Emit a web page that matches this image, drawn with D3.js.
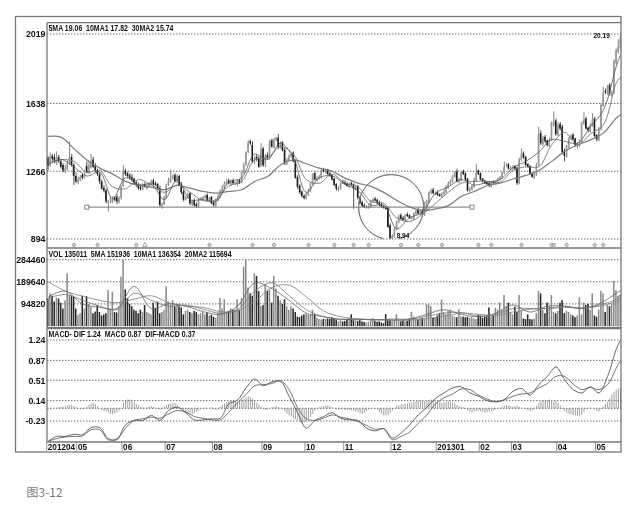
<!DOCTYPE html>
<html>
<head>
<meta charset="utf-8">
<script src="https://cdn.jsdelivr.net/npm/d3@7"></script>
<style>
html, body { margin: 0; padding: 0; background: #fff; }
svg { display: block; }
#chart { filter: blur(0.5px); }
text { font-family: "Liberation Sans", Arial, sans-serif; font-weight: bold; fill: #111; }
.grid { stroke: #555; stroke-width: 0.9; stroke-dasharray: 1.4 1.6; }
.frame { stroke: #777; fill: none; stroke-width: 1.3; }
</style>
</head>
<body>
<svg id="chart" width="640" height="506"></svg>
<script>
// daily candles, 2012/04 - 2013/05
var open = [
13.4,13.0,13.5,13.45,13.1,13.45,13.2,13.0,12.65,12.75,
13.1,13.45,13.0,12.4,12.05,12.15,12.45,12.3,12.95,12.55,
12.85,13.3,12.95,12.7,12.5,12.1,11.75,11.6,10.9,11.05,
10.95,11.2,11.25,10.95,11.2,11.85,12.7,12.55,12.45,12.35,
12.25,12.05,11.95,11.8,11.65,11.95,11.7,11.8,11.95,12.15,
12.0,11.95,11.75,10.75,10.85,11.2,11.9,12.05,12.25,12.45,
12.05,12.4,11.95,11.55,11.1,11.2,11.45,10.85,11.05,10.85,
10.75,11.1,11.1,11.2,11.35,11.05,11.25,10.95,10.8,11.05,
11.3,11.55,11.75,11.95,12.15,11.95,12.15,11.95,11.95,12.15,
12.05,12.55,13.0,13.7,14.3,14.1,13.15,13.45,13.35,12.95,
13.9,13.05,13.55,13.4,14.35,13.95,14.35,14.5,13.95,14.25,
13.85,13.05,13.25,13.45,13.65,13.25,12.35,11.85,11.55,11.3,
11.15,11.35,11.55,11.95,12.55,12.15,12.25,12.3,12.75,12.6,
12.75,12.55,12.45,12.25,11.95,11.6,11.7,12.05,12.05,12.0,
11.8,12.0,11.95,11.65,11.85,11.25,10.95,10.8,10.65,10.65,
10.7,11.0,11.15,11.1,10.95,10.85,10.75,10.7,10.65,9.7,
8.95,9.05,9.45,9.85,10.25,10.1,9.95,10.3,10.25,10.05,
10.05,10.3,10.55,10.3,10.5,10.25,10.55,10.95,11.45,11.65,
11.4,11.5,11.4,11.25,11.4,11.5,11.75,11.95,12.05,12.35,
12.65,12.05,12.15,12.65,12.55,12.25,11.55,11.65,11.8,12.15,
12.7,12.55,12.25,12.15,12.05,12.0,11.8,12.1,11.95,12.05,
12.2,12.3,12.55,12.95,13.05,12.75,12.8,12.95,12.85,12.0,
13.25,13.65,13.45,13.05,12.95,12.55,12.3,12.45,13.0,14.75,
14.15,14.55,14.35,14.05,14.35,15.2,15.45,14.65,15.25,15.1,
13.75,13.45,13.95,14.45,14.65,14.45,14.05,14.05,14.25,15.25,
15.55,15.05,14.85,15.15,15.55,14.65,14.35,14.95,16.25,17.05,
16.95,17.4,16.85,16.95,18.6,19.2,19.4];
var close = [
12.95,13.45,13.35,13.25,13.4,13.2,12.9,12.7,12.8,13.1,
13.4,13.0,12.4,12.1,12.2,12.35,12.3,12.5,12.6,13.0,
13.2,12.9,12.7,12.5,12.1,11.7,11.6,11.0,11.0,11.1,
11.15,11.1,11.0,11.2,11.8,12.6,12.5,12.4,12.3,12.2,
12.0,11.9,11.75,11.7,11.9,11.8,11.85,12.0,12.1,11.95,
11.9,11.7,10.8,10.85,11.2,11.9,12.1,12.3,12.4,12.1,
12.4,11.9,11.5,11.1,11.2,11.4,10.9,11.0,10.8,10.75,
11.1,11.2,11.25,11.3,11.1,11.2,10.9,10.8,11.1,11.3,
11.6,11.8,12.0,12.1,12.0,12.1,12.0,12.05,12.1,12.0,
12.6,13.0,13.7,14.2,14.2,13.2,13.4,13.3,12.9,13.9,
13.0,13.5,13.4,14.3,14.0,14.4,14.5,14.0,14.2,13.8,
13.1,13.3,13.5,13.6,13.2,12.3,11.8,11.5,11.3,11.2,
11.4,11.6,12.0,12.5,12.2,12.3,12.35,12.7,12.65,12.7,
12.5,12.4,12.2,11.9,11.7,11.75,12.0,12.0,11.95,11.85,
11.95,11.9,11.7,11.8,11.2,10.9,10.75,10.7,10.7,10.75,
11.05,11.1,11.05,10.9,10.8,10.7,10.65,10.6,9.6,9.0,
9.1,9.5,9.9,10.2,10.05,10.0,10.25,10.2,10.1,10.1,
10.35,10.5,10.35,10.45,10.3,10.6,11.0,11.5,11.6,11.45,
11.45,11.35,11.3,11.45,11.55,11.8,12.0,12.1,12.4,12.6,
12.1,12.2,12.6,12.5,12.2,11.6,11.7,11.85,12.2,12.6,
12.5,12.2,12.1,12.0,11.95,11.85,12.05,12.0,12.1,12.25,
12.35,12.6,12.9,13.0,12.8,12.85,12.9,12.8,12.0,13.3,
13.6,13.4,13.0,12.9,12.5,12.35,12.5,13.0,14.7,14.2,
14.5,14.3,14.1,14.4,15.3,15.4,14.7,15.2,15.0,13.7,
13.5,14.0,14.5,14.6,14.4,14.1,14.1,14.3,15.3,15.5,
15.0,14.9,15.2,15.5,14.6,14.4,15.0,16.3,17.0,17.0,
17.3,16.9,17.0,18.7,19.3,19.5,20.0];
var high = [
13.5,13.7,13.6,13.6,13.75,13.55,13.3,13.1,13.0,13.25,
14.3,13.6,13.1,12.6,12.35,12.45,12.55,12.6,13.2,13.25,
13.6,13.45,13.1,12.8,12.6,12.2,11.9,11.7,11.1,11.3,
11.3,11.3,11.4,11.3,11.9,13.0,12.8,12.65,12.55,12.5,
12.3,12.15,12.05,11.95,12.0,12.05,11.95,12.05,12.2,12.25,
12.1,12.0,11.85,10.95,11.3,11.95,12.3,12.75,12.5,12.55,
12.5,12.45,12.05,11.65,11.3,11.5,11.5,11.1,11.15,10.95,
11.15,11.25,11.3,11.4,11.45,11.25,11.3,11.05,11.15,11.4,
11.65,11.9,12.1,12.25,12.25,12.2,12.25,12.1,12.2,12.25,
12.7,13.15,13.75,14.35,14.4,14.3,13.5,13.6,13.5,14.2,
14.0,13.6,13.7,14.4,14.45,14.5,14.55,14.7,14.3,14.3,
13.95,13.4,13.6,13.7,13.75,13.3,12.45,11.95,11.6,11.4,
11.5,11.7,12.05,12.55,12.65,12.4,12.45,12.8,12.85,12.8,
12.8,12.6,12.5,12.3,12.0,11.85,12.05,12.2,12.15,12.05,
12.05,12.1,12.0,11.9,11.9,11.3,11.05,10.9,10.8,10.85,
11.1,11.2,11.25,11.15,11.05,10.95,10.8,10.75,10.7,9.8,
9.2,9.6,9.95,10.3,10.35,10.2,10.3,10.4,10.3,10.2,
10.4,10.55,10.65,10.55,10.6,11.0,11.1,11.55,11.7,11.75,
11.55,11.6,11.45,11.5,11.65,11.9,12.1,12.2,12.45,12.65,
12.8,12.3,12.65,12.75,12.6,12.3,11.8,11.9,12.3,13.05,
12.75,12.6,12.3,12.2,12.1,12.05,12.1,12.15,12.15,12.3,
12.4,12.65,13.2,13.1,13.1,12.95,13.0,13.0,12.9,13.4,
13.9,13.75,13.5,13.1,13.0,12.6,12.55,13.1,15.1,14.9,
14.6,14.65,14.4,14.5,15.4,15.95,15.55,15.35,15.35,15.2,
13.9,14.1,14.55,14.7,14.75,14.5,14.25,14.4,15.4,15.9,
15.65,15.1,15.3,15.85,15.65,14.7,15.1,16.4,17.3,17.2,
17.4,17.5,17.1,18.8,19.4,19.9,20.19];
var low = [
12.7,12.9,13.2,13.1,13.0,13.1,12.8,12.6,12.55,12.7,
13.0,12.9,11.9,12.0,11.95,12.1,12.2,12.25,12.55,12.5,
12.8,12.85,12.6,12.4,11.95,11.65,11.5,10.9,10.45,10.9,
10.9,11.0,10.85,10.9,11.1,11.8,12.4,12.3,12.2,12.1,
11.95,11.8,11.65,11.6,11.6,11.75,11.65,11.75,11.9,11.9,
11.85,11.65,10.7,10.6,10.8,11.15,11.85,12.0,12.2,12.05,
12.0,11.85,11.4,11.0,11.05,11.15,10.8,10.75,10.7,10.65,
10.65,11.05,11.05,11.15,11.0,11.0,10.85,10.7,10.7,11.0,
11.2,11.5,11.7,11.9,11.95,11.85,11.95,11.9,11.85,11.95,
12.0,12.5,12.95,13.65,14.1,13.1,13.05,13.2,12.85,12.9,
12.9,12.9,13.3,13.3,13.95,13.9,14.3,13.9,13.9,13.75,
13.0,13.0,13.2,13.4,13.15,12.25,11.7,11.4,11.2,11.1,
11.1,11.3,11.5,11.9,12.15,12.1,12.2,12.25,12.6,12.55,
12.45,12.35,12.15,11.85,11.6,11.55,11.65,11.95,11.9,11.8,
11.75,11.85,10.6,11.6,11.1,10.85,10.7,10.65,10.6,10.6,
10.65,10.95,11.0,10.85,10.75,10.65,10.6,10.55,9.55,8.94,
8.94,9.0,9.4,9.8,10.0,9.95,9.9,10.15,10.05,10.0,
10.0,10.25,10.3,10.25,10.25,10.2,10.5,10.9,11.4,11.4,
11.35,11.3,11.25,11.2,11.35,11.45,11.7,11.9,12.0,12.3,
12.05,12.0,12.1,12.45,12.15,11.55,11.5,11.6,11.75,12.1,
12.45,12.15,12.05,11.95,11.9,11.8,11.75,11.95,11.9,12.0,
12.15,12.25,12.5,12.9,12.75,12.7,12.75,12.75,11.9,11.95,
13.2,13.35,12.95,12.85,12.45,12.3,12.25,12.4,12.95,14.1,
14.05,14.2,14.0,14.0,14.3,15.1,14.6,14.6,14.9,13.6,
13.2,13.4,13.9,14.4,14.35,14.0,13.9,14.0,14.2,15.2,
14.95,14.8,14.8,15.1,14.5,14.3,14.3,14.9,16.2,16.9,
16.85,16.8,16.75,16.9,18.5,19.1,19.3];

// moving averages, read every 6 bars plus the last bar
var maBars = d3.range(0, 266, 6).concat([266]);
var ma5 = [13.0,13.3,12.9,12.4,12.6,11.15,12.3,11.9,11.95,11.1,12.2,11.1,11.1,11.0,12.05,12.3,13.6,13.3,14.2,13.4,11.5,12.3,12.4,11.95,11.6,10.8,10.8,9.5,10.1,10.4,11.45,11.8,12.2,11.9,12.05,12.2,12.85,13.2,13.7,14.4,14.3,14.2,15.1,16.0,18.4,19.06];
var ma10 = [13.1,13.3,13.2,12.6,12.7,11.8,11.7,12.2,11.9,11.5,11.9,11.5,11.05,11.1,11.85,12.1,13.3,13.4,14.0,13.6,12.2,12.0,12.5,12.0,11.8,11.0,10.9,10.1,9.9,10.3,10.9,11.5,12.0,12.1,12.1,12.05,12.7,12.9,12.9,14.1,14.8,14.1,14.7,15.2,17.5,17.82];
var ma30 = [14.57,14.53,13.9,13.28,12.83,12.5,12.1,11.88,11.79,11.64,11.88,11.73,11.55,11.46,11.55,11.64,12.1,12.37,13.0,13.28,13.07,12.83,12.65,12.28,12.01,11.83,11.5,11.06,10.7,10.5,10.59,10.77,11.28,11.55,11.86,12.01,12.23,12.43,12.7,13.2,13.74,14.1,14.38,14.75,15.57,15.74];

// volume in thousands
var volume = [
119,140,130,105,122,118,100,75,110,226,
135,130,125,75,48,55,130,75,128,95,
82,55,62,90,60,45,50,55,155,75,
147,60,58,85,212,284,157,120,95,85,
70,65,55,70,60,90,60,55,50,100,
78,105,55,60,70,170,105,90,110,85,
95,85,80,50,65,70,60,55,65,60,
50,55,62,50,58,45,48,40,35,55,
120,75,115,60,65,75,70,70,115,70,
120,255,284,165,140,130,226,215,150,85,
90,180,150,155,100,215,160,130,110,95,
115,85,70,85,75,60,40,38,45,50,
55,48,50,70,50,35,30,28,30,30,
32,30,38,32,28,20,25,20,22,30,
35,50,28,25,22,28,20,18,15,18,
25,35,22,18,20,15,12,51,28,25,
22,25,50,22,20,25,20,22,32,61,
40,30,28,32,35,30,93,93,85,35,
38,45,55,114,60,50,65,70,45,40,
38,72,42,40,38,40,35,38,32,30,
48,45,35,40,42,80,42,45,78,70,
100,70,133,85,100,60,50,83,60,133,
70,32,30,50,30,28,32,55,151,140,
70,55,100,85,133,60,55,65,100,111,
55,65,60,50,45,38,45,123,50,100,
90,95,70,140,45,40,70,151,140,60,
90,85,95,194,154,130,135];

// volume averages, read every 8 bars plus the last bar
var volBars = d3.range(0, 266, 8).concat([266]);
var vma5 = [125,150,95,80,75,170,75,95,85,62,50,85,185,160,110,55,40,28,30,25,30,30,50,70,50,40,55,90,60,85,85,75,95,140,152];
var vma10 = [120,135,110,85,70,140,110,85,90,72,55,70,150,185,130,70,40,30,28,28,25,28,42,55,58,42,50,75,75,75,85,75,90,115,136];
var vma20 = [190,150,128,110,100,115,130,100,85,80,62,65,105,165,175,125,65,40,30,28,25,25,32,42,55,50,45,60,72,75,80,78,85,105,116];

// MACD lines, read every 4 bars plus the last bar
var macdBars = d3.range(0, 266, 4).concat([266]);
var dif = [-0.60,-0.51,-0.51,-0.47,-0.48,-0.35,-0.35,-0.55,-0.57,-0.30,-0.22,-0.22,-0.13,-0.22,-0.04,0.02,-0.08,-0.21,-0.21,-0.19,-0.18,0.08,0.15,0.37,0.53,0.41,0.48,0.49,0.22,-0.08,-0.36,-0.22,-0.15,-0.08,-0.18,-0.21,-0.22,-0.36,-0.41,-0.37,-0.54,-0.45,-0.30,-0.12,0.02,0.18,0.28,0.37,0.39,0.28,0.22,0.14,0.12,0.16,0.31,0.36,0.24,0.43,0.58,0.75,0.52,0.34,0.28,0.39,0.28,0.58,1.07,1.24];
var dea = [-0.60,-0.55,-0.52,-0.51,-0.50,-0.39,-0.39,-0.57,-0.55,-0.36,-0.22,-0.19,-0.16,-0.18,-0.10,-0.04,-0.07,-0.15,-0.18,-0.21,-0.21,-0.07,0.10,0.25,0.41,0.43,0.45,0.50,0.34,0.01,-0.19,-0.22,-0.18,-0.12,-0.16,-0.19,-0.24,-0.31,-0.38,-0.37,-0.57,-0.51,-0.43,-0.27,-0.12,0.08,0.19,0.26,0.35,0.34,0.24,0.17,0.12,0.15,0.22,0.26,0.28,0.37,0.45,0.58,0.58,0.44,0.34,0.38,0.34,0.43,0.73,0.87];
var hist = [
-.01,0,0,0,.01,.02,.03,.03,.04,.05,
.06,.07,.04,.02,0,-.01,-.01,.01,.03,.06,
.09,.10,.08,.04,-.01,-.03,-.05,-.06,-.08,-.10,
-.11,-.09,-.07,-.04,-.01,.10,.15,.16,.16,.15,
.12,.08,.05,.03,.02,.01,.02,.03,.04,.03,
.01,-.01,-.03,-.02,.03,.06,.08,.09,.10,.09,
.06,.02,-.02,-.05,-.07,-.09,-.10,-.10,-.09,-.06,
-.04,-.02,-.01,.01,0,-.01,.02,-.02,-.03,-.02,
.03,.06,.09,.11,.13,.14,.13,.13,.12,.13,
.15,.17,.20,.22,.20,.17,.14,.10,.06,.03,
-.02,-.03,-.02,.01,.02,.03,.04,.03,.01,-.02,
-.06,-.10,-.13,-.15,-.18,-.20,-.22,-.25,-.27,-.26,
-.24,-.20,-.16,-.10,-.04,-.01,.02,.03,.04,.05,
.05,.04,.02,0,-.02,-.03,-.02,-.02,-.03,-.03,
-.03,-.04,-.05,-.06,-.07,-.09,-.10,-.08,-.05,-.03,
-.01,0,-.01,-.03,-.06,-.10,-.13,-.13,-.12,-.08,
-.04,0,.05,.06,.07,.08,.08,.09,.10,.11,
.12,.13,.14,.15,.14,.13,.14,.15,.16,.14,
.12,.11,.12,.10,.11,.12,.13,.12,.11,.09,
.06,.04,.03,.02,-.01,-.04,-.06,-.07,-.06,-.05,
-.04,-.05,-.06,-.07,-.07,-.06,-.05,-.04,-.02,0,
.01,.03,.05,.06,.05,.04,.03,.04,.05,.03,
.01,0,-.02,-.04,-.05,-.04,-.01,.05,.10,.13,
.15,.14,.15,.16,.15,.12,.14,.10,.05,-.01,
-.05,-.08,-.10,-.11,-.12,-.13,-.14,-.15,-.12,-.07,
-.02,0,.01,0,-.02,-.05,-.06,-.02,.03,.08,
.12,.18,.25,.30,.34,.36,.37];

// tick values and their printed labels
var priceTicks = [20.19, 16.38, 12.66, 8.94];
var priceLabels = ["2019", "1638", "1266", "894"];
var volTicks = [284.46, 189.64, 94.82];
var volLabels = ["284460", "189640", "94820"];
var macdTicks = [1.24, 0.87, 0.51, 0.14, -0.23];
var macdLabels = ["1.24", "0.87", "0.51", "0.14", "-0.23"];
var monthBars = [0, 14, 35, 55, 77, 100, 120, 138, 160, 181, 201, 216, 237, 255];
var monthLabels = ["201204", "05", "06", "07", "08", "09", "10", "11", "12", "201301", "02", "03", "04", "05"];

// little signal marks along the foot of the price panel
var signalBars = [12, 23, 41, 75, 95, 105, 121, 133, 142, 149, 164, 172, 183, 200, 206, 220, 234, 235, 241, 254, 258];
var triangleBars = [45];

var neckline = {from: 18, to: 197, price: 10.69};
var circleCentre = {bar: 159.4, price: 10.69};
var lowNote = {bar: 162, price: 9.0, text: "8.94"};
var highNote = {bar: 261, price: 19.95, text: "20.19"};

var legendPrice = "5MA 19.06  10MA1 17.82  30MA2 15.74";
var legendVol = "VOL 135011  5MA 151936  10MA1 136354  20MA2 115694";
var legendMacd = "MACD- DIF 1.24  MACD 0.87  DIF-MACD 0.37";

var left = 47, right = 621, frameLeft = 15.5, frameTop = 16.5, frameBottom = 452;
var panels = {price: [22.7, 248], vol: [248, 327.5], macd: [328.5, 442]};

var svg = d3.select("#chart");
var bars = d3.range(open.length);

var x = d3.scaleBand().domain(bars).range([left, right]).paddingInner(0.28);
var cx = function (i) { return left + (i + 0.5) * x.step(); };
var yPrice = d3.scaleLinear().domain([8.94, 20.19]).range([239, 34]);
var yVol = d3.scaleLinear().domain([0, 284.46]).range([326, 259.7]);
var yMacd = d3.scaleLinear().domain([-0.23, 1.24]).range([421, 340]);

function leftAxis(scale, values, labels) {
    var g = svg.append("g").attr("transform", "translate(" + left + ",0)")
        .call(d3.axisLeft(scale).tickValues(values).tickSize(0).tickPadding(1.5)
            .tickFormat(function (d, i) { return labels[i]; }));
    g.select(".domain").remove();
    g.selectAll("text").style("font-size", "8.8px").style("font-family", null).attr("fill", null);
    g.attr("font-family", null);
    svg.append("g").selectAll("line").data(values).join("line")
        .attr("class", "grid")
        .attr("x1", left).attr("x2", right)
        .attr("y1", function (d) { return scale(d); })
        .attr("y2", function (d) { return scale(d); });
}

leftAxis(yPrice, priceTicks, priceLabels);
leftAxis(yVol, volTicks, volLabels);
leftAxis(yMacd, macdTicks, macdLabels);

function drawLine(xs, values, scale, color, width) {
    var line = d3.line()
        .x(function (d, i) { return cx(xs[i]); })
        .y(function (d) { return scale(d); })
        .curve(d3.curveCatmullRom.alpha(0.5));
    svg.append("path").datum(values)
        .attr("d", line)
        .attr("fill", "none")
        .attr("stroke", color)
        .attr("stroke-width", width);
}

// candles
var isUp = function (i) { return close[i] >= open[i]; };
var candles = svg.append("g");
candles.selectAll("line").data(bars).join("line")
    .attr("x1", cx).attr("x2", cx)
    .attr("y1", function (i) { return yPrice(high[i]); })
    .attr("y2", function (i) { return yPrice(low[i]); })
    .attr("stroke", function (i) { return isUp(i) ? "#666" : "#222"; })
    .attr("stroke-width", 0.8);
candles.selectAll("rect").data(bars).join("rect")
    .attr("x", function (i) { return x(i); })
    .attr("width", x.bandwidth())
    .attr("y", function (i) { return yPrice(Math.max(open[i], close[i])); })
    .attr("height", function (i) { return Math.max(0.8, Math.abs(yPrice(open[i]) - yPrice(close[i]))); })
    .attr("fill", function (i) { return isUp(i) ? "#999" : "#1c1c1c"; });

drawLine(maBars, ma30, yPrice, "#7d7d7d", 1.2);
drawLine(maBars, ma10, yPrice, "#777", 0.9);
drawLine(maBars, ma5, yPrice, "#555", 0.8);

// neckline with its end handles
svg.append("line")
    .attr("x1", cx(neckline.from)).attr("x2", cx(neckline.to))
    .attr("y1", yPrice(neckline.price)).attr("y2", yPrice(neckline.price))
    .attr("stroke", "#777").attr("stroke-width", 1);
svg.selectAll(".handle").data([neckline.from, neckline.to]).join("rect")
    .attr("class", "handle")
    .attr("x", function (d) { return cx(d) - 2; })
    .attr("y", yPrice(neckline.price) - 2)
    .attr("width", 4).attr("height", 4)
    .attr("fill", "#fff").attr("stroke", "#666").attr("stroke-width", 0.8);

// hand drawn circle round the bottom, open at the foot
var circleArc = d3.arc().innerRadius(32.5).outerRadius(32.5)
    .startAngle(Math.PI + 0.25).endAngle(3 * Math.PI - 0.25);
svg.append("path")
    .attr("d", circleArc())
    .attr("transform", "translate(" + cx(circleCentre.bar) + "," + yPrice(circleCentre.price) + ")")
    .attr("fill", "none").attr("stroke", "#777").attr("stroke-width", 0.9);

svg.append("text").attr("x", cx(lowNote.bar)).attr("y", yPrice(lowNote.price))
    .style("font-size", "6.5px").text(lowNote.text);
svg.append("text").attr("x", cx(highNote.bar)).attr("y", yPrice(highNote.price))
    .attr("text-anchor", "end")
    .style("font-size", "6.5px").text(highNote.text);

// signal marks
svg.append("g").selectAll("circle").data(signalBars).join("circle")
    .attr("cx", cx).attr("cy", 245)
    .attr("r", 1.7)
    .attr("fill", "#ccc").attr("stroke", "#888").attr("stroke-width", 0.6);
svg.append("g").selectAll("path").data(triangleBars).join("path")
    .attr("d", d3.symbol().type(d3.symbolTriangle).size(9))
    .attr("transform", function (d) { return "translate(" + cx(d) + ",245)"; })
    .attr("fill", "#fff").attr("stroke", "#666").attr("stroke-width", 0.6);

// volume bars
svg.append("g").selectAll("rect").data(bars).join("rect")
    .attr("x", function (i) { return x(i); })
    .attr("width", x.bandwidth())
    .attr("y", function (i) { return yVol(volume[i]); })
    .attr("height", function (i) { return yVol(0) - yVol(volume[i]); })
    .attr("fill", function (i) { return isUp(i) ? "#8c8c8c" : "#2a2a2a"; });

drawLine(volBars, vma20, yVol, "#888", 0.9);
drawLine(volBars, vma10, yVol, "#777", 0.8);
drawLine(volBars, vma5, yVol, "#666", 0.8);

// MACD
svg.append("line").attr("class", "grid")
    .attr("x1", left).attr("x2", right)
    .attr("y1", yMacd(0)).attr("y2", yMacd(0));
svg.append("g").selectAll("line").data(bars).join("line")
    .attr("x1", cx).attr("x2", cx)
    .attr("y1", yMacd(0))
    .attr("y2", function (i) { return yMacd(hist[i]); })
    .attr("stroke", "#8a8a8a").attr("stroke-width", 0.8);

drawLine(macdBars, dea, yMacd, "#666", 0.9);
drawLine(macdBars, dif, yMacd, "#555", 0.9);

// x axis
var xAxis = svg.append("g").attr("transform", "translate(0," + panels.macd[1] + ")")
    .call(d3.axisBottom(x).tickValues(monthBars).tickSize(9).tickPadding(-8)
        .tickFormat(function (d, i) { return monthLabels[i]; }));
xAxis.select(".domain").remove();
xAxis.selectAll("line").attr("stroke", "#777").attr("stroke-width", 0.8)
    .attr("x1", -x.step() / 2).attr("x2", -x.step() / 2);
xAxis.selectAll("text")
    .attr("text-anchor", "start").attr("x", 0).attr("y", 2.5).attr("dy", "0.71em")
    .style("font-size", "8.2px").attr("fill", null);
xAxis.attr("font-family", null);

// legends
function legend(y, text, width) {
    svg.append("text").attr("x", 48.5).attr("y", y)
        .attr("textLength", width).attr("lengthAdjust", "spacingAndGlyphs")
        .attr("xml:space", "preserve")
        .style("white-space", "pre")
        .style("font-size", "8.2px")
        .text(text);
}
legend(30.5, legendPrice, 125);
legend(256.7, legendVol, 183);
legend(336.7, legendMacd, 147);

// frame and panel dividers
svg.append("rect").attr("class", "frame")
    .attr("x", frameLeft).attr("y", frameTop)
    .attr("width", right - frameLeft).attr("height", frameBottom - frameTop);
svg.append("line").attr("class", "frame").attr("x1", left).attr("x2", left)
    .attr("y1", panels.price[0]).attr("y2", panels.macd[1]);
[panels.price[0], panels.price[1], panels.vol[1], panels.macd[0], panels.macd[1]].forEach(function (y, i) {
    svg.append("line").attr("class", "frame")
        .attr("x1", left).attr("x2", right)
        .attr("y1", y).attr("y2", y)
        .attr("stroke-width", i == 1 ? 1.8 : 1);
});

// caption
svg.append("text").attr("x", 26.5).attr("y", 496.5)
    .style("font-family", '"Noto Sans CJK SC", sans-serif')
    .style("font-weight", "normal")
    .style("font-size", "12px")
    .style("fill", "#777")
    .text("图3-12");
</script>
</body>
</html>
